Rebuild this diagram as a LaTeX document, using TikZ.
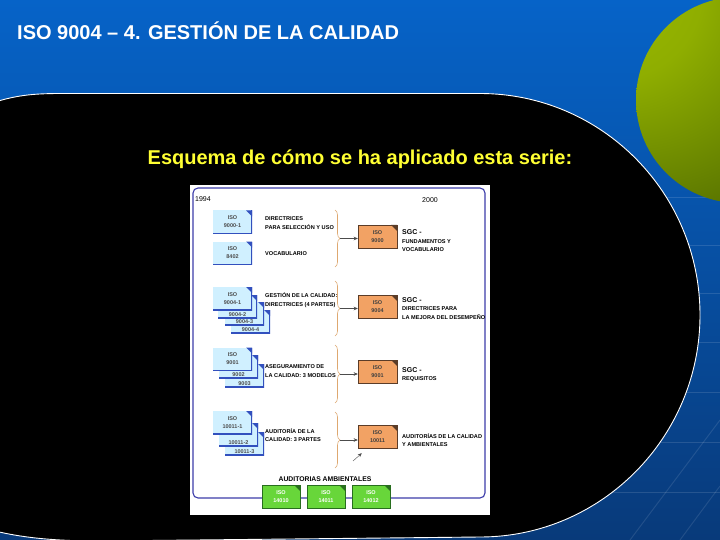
\documentclass[tikz,border=0pt]{standalone}
\usepackage{fontspec}
\setmainfont{Liberation Sans}
\usetikzlibrary{arrows.meta,positioning,calc,decorations.pathreplacing}

\definecolor{slideblue}{RGB}{6,99,200}
\definecolor{slidemid}{RGB}{8,88,180}
\definecolor{slidedeep}{RGB}{8,58,122}
\definecolor{ballhi}{RGB}{160,192,0}
\definecolor{ballmid}{RGB}{112,142,0}
\definecolor{balldark}{RGB}{74,100,0}
\definecolor{titleyellow}{RGB}{255,255,51}
\definecolor{framecol}{RGB}{60,60,170}
\definecolor{docblue}{RGB}{208,240,255}
\definecolor{docedge}{RGB}{50,80,190}
\definecolor{docorange}{RGB}{242,162,100}
\definecolor{orangeedge}{RGB}{90,60,40}
\definecolor{docgreen}{RGB}{104,214,58}
\definecolor{greenedge}{RGB}{40,110,30}
\definecolor{bracecol}{RGB}{222,168,112}

\pgfdeclareradialshading{greenball}{\pgfpoint{-40bp}{35bp}}{%
  color(0bp)=(ballhi); color(22bp)=(ballhi!80!balldark); color(54bp)=(balldark);
  color(68bp)=(balldark); color(95bp)=(ballmid)}

\tikzset{
  foldcorner/.style={path picture={
    \fill[#1] ([xshift=-6pt]path picture bounding box.north east)
      -- (path picture bounding box.north east)
      -- ([yshift=-6pt]path picture bounding box.north east) -- cycle;
  }},
  foldedge/.style={path picture={
    \draw[#1, line width=1.6pt] (path picture bounding box.north east)
      -- (path picture bounding box.south east)
      -- (path picture bounding box.south west);
    \fill[#1] ([xshift=-6pt]path picture bounding box.north east)
      -- (path picture bounding box.north east)
      -- ([yshift=-6pt]path picture bounding box.north east) -- cycle;
  }},
}

\begin{document}
\begin{tikzpicture}[
    x=1pt, y=1pt,
    every node/.style={inner sep=0pt},
    doc/.style={rectangle, minimum width=39pt, minimum height=23pt, align=center,
      font=\fontsize{5.5}{8}\selectfont\bfseries},
    bdoc/.style={doc, fill=docblue, text=black!70, foldedge=docedge},
    odoc/.style={doc, fill=docorange, draw=orangeedge, line width=0.5pt, text=black!75, foldcorner=orangeedge},
    gdoc/.style={doc, minimum width=38pt, fill=docgreen, draw=greenedge, line width=0.5pt, text=white, foldcorner=greenedge},
    stacklbl/.style={anchor=south, inner sep=1pt, text=black!70, font=\fontsize{5.5}{6}\selectfont\bfseries},
    desc/.style={anchor=west, align=left, font=\fontsize{5.6}{8.5}\selectfont\bfseries},
    brc/.style={draw=bracecol, line width=0.6pt, decorate, decoration={brace, amplitude=5pt}},
    arr/.style={-{Stealth[length=4pt,width=3.5pt]}, draw=black!70, line width=0.4pt},
]
    \useasboundingbox (0,0) rectangle (720,-540);

    % Slide background
    \shade[top color=slideblue, middle color=slidemid, bottom color=slidedeep] (0,0) rectangle (720,-540);
    \foreach \yy in {197,245,293,342,392,442,492}
        \draw[white, opacity=0.12, line width=0.8pt] (560,-\yy) -- (720,-\yy);
    \draw[white, opacity=0.1, line width=1pt] (630,-540) -- (720,-420);
    \draw[white, opacity=0.1, line width=1pt] (680,-540) -- (720,-486);
    \shade[shading=greenball] (739,-100) circle[radius=103];

    % Black panel
    \draw[white, line width=0.9pt, fill=black]
        (-5,-102) .. controls (15,-96) and (30,-93.5) .. (60,-93.5) -- (480,-93.5)
        .. controls (601.5,-93.5) and (700,-192.7) .. (700,-315)
        .. controls (700,-437) and (601.5,-537) .. (480,-537) -- (100,-541)
        .. controls (50,-541) and (20,-537) .. (-5,-531) -- cycle;

    % Titles
    \node[anchor=west, text=white, font=\fontsize{20}{24}\selectfont\bfseries] (title) at (17,-31) {ISO 9004 – 4. GESTIÓN DE LA CALIDAD};
    \node[text=titleyellow, font=\fontsize{20}{24}\selectfont\bfseries] (subtitle) at (360,-159) {Esquema de cómo se ha aplicado esta serie:};

    % Scheme picture
    \node[fill=white, minimum width=300pt, minimum height=330pt] (sheet) at (340,-350) {};
    \draw[framecol, line width=1.1pt, rounded corners=5pt] (193,-188) rectangle (485,-498);
    \node[anchor=west, font=\fontsize{7}{8}\selectfont] (y1994) at (195,-199) {1994};
    \node[font=\fontsize{7}{8}\selectfont] (y2000) at (430,-200) {2000};

    % 1994 documents
    \node[bdoc] (iso90001) at (232.5,-222) {ISO\\9000-1};
    \node[bdoc] (iso8402) at (232.5,-253) {ISO\\8402};

    \node[bdoc, label={[stacklbl]south:9004-4}] (iso90044) at (250.5,-321.5) {};
    \node[bdoc, label={[stacklbl]south:9004-3}] (iso90043) at (244.5,-313.5) {};
    \node[bdoc, label={[stacklbl]south:9004-2}] (iso90042) at (237.5,-306.5) {};
    \node[bdoc] (iso90041) at (232.5,-298.5) {ISO\\9004-1};

    \node[bdoc, label={[stacklbl]south:9003}] (iso9003) at (244.5,-375.5) {};
    \node[bdoc, label={[stacklbl]south:9002}] (iso9002) at (238.5,-366.5) {};
    \node[bdoc] (iso9001old) at (232.5,-359) {ISO\\9001};

    \node[bdoc, label={[stacklbl]south:10011-3}] (iso100113) at (244.5,-443.5) {};
    \node[bdoc, label={[stacklbl]south:10011-2}] (iso100112) at (238.5,-434.5) {};
    \node[bdoc] (iso100111) at (232.5,-422.5) {ISO\\10011-1};

    \node[desc] (d1) at (265,-223) {DIRECTRICES\\PARA SELECCIÓN Y USO};
    \node[desc] (d2) at (265,-254) {VOCABULARIO};
    \node[desc] (d3) at (265,-300) {GESTIÓN DE LA CALIDAD:\\DIRECTRICES (4 PARTES)};
    \node[desc] (d4) at (265,-371) {ASEGURAMIENTO DE\\LA CALIDAD: 3 MODELOS};
    \node[desc] (d5) at (265,-435) {AUDITORÍA DE LA\\CALIDAD: 3 PARTES};

    % Braces
    \draw[brc] (335,-210) -- (335,-267);
    \coordinate (tip1) at (340,-238.5);
    \draw[brc] (335,-281) -- (335,-336);
    \coordinate (tip2) at (340,-308.5);
    \draw[brc] (335,-345) -- (335,-403);
    \coordinate (tip3) at (340,-374);
    \draw[brc] (335,-412) -- (335,-468);
    \coordinate (tip4) at (340,-440);

    % 2000 documents
    \node[odoc] (o9000) at (377.5,-236.5) {ISO\\9000};
    \node[odoc] (o9004) at (377.5,-306.5) {ISO\\9004};
    \node[odoc] (o9001) at (377.5,-371.5) {ISO\\9001};
    \node[odoc] (o10011) at (377.5,-436.5) {ISO\\10011};

    \draw[arr] (tip1) -- (tip1 -| o9000.west);
    \draw[arr] (tip2) -- (tip2 -| o9004.west);
    \draw[arr] (tip3) -- (tip3 -| o9001.west);
    \draw[arr] (tip4) -- (tip4 -| o10011.west);

    \node[desc] (r1) at (402,-241) {{\fontsize{7}{8.5}\selectfont SGC -}\\FUNDAMENTOS Y\\VOCABULARIO};
    \node[desc] (r2) at (402,-308.5) {{\fontsize{7}{8.5}\selectfont SGC -}\\DIRECTRICES PARA\\LA MEJORA DEL DESEMPEÑO};
    \node[desc] (r3) at (402,-374.5) {{\fontsize{7}{8.5}\selectfont SGC -}\\REQUISITOS};
    \node[desc] (r4) at (402,-440) {AUDITORÍAS DE LA CALIDAD\\Y AMBIENTALES};

    % Environmental audits
    \node[font=\fontsize{6.8}{8}\selectfont\bfseries] (amb) at (325,-479) {AUDITORIAS AMBIENTALES};
    \node[gdoc] (g14010) at (281,-496.5) {ISO\\14010};
    \node[gdoc] (g14011) at (326,-496.5) {ISO\\14011};
    \node[gdoc] (g14012) at (371,-496.5) {ISO\\14012};

    \coordinate (ambtip) at (353,-461);
    \draw[arr] (ambtip) -- ([xshift=4pt,yshift=-5pt]o10011.south west);
\end{tikzpicture}
\end{document}
